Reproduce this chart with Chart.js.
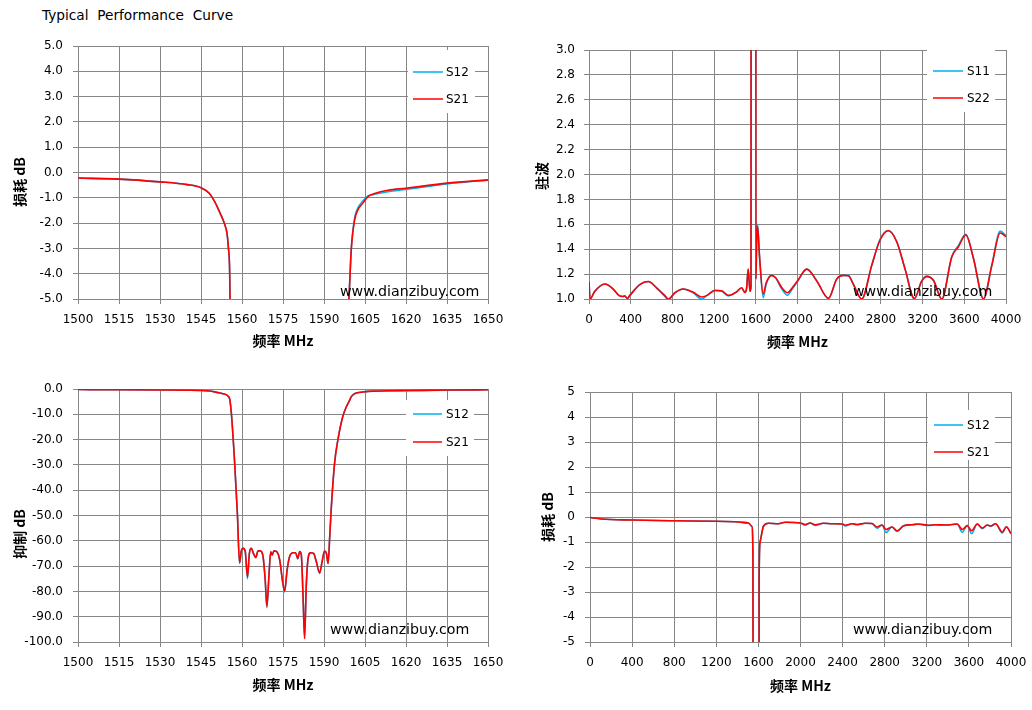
<!DOCTYPE html>
<html>
<head>
<meta charset="utf-8">
<script src="https://cdn.jsdelivr.net/npm/chart.js@4.4.1/dist/chart.umd.min.js"></script>
<style>
html,body{margin:0;padding:0;background:#fff;width:1032px;height:710px;overflow:hidden;}
#title{position:absolute;left:42px;top:7px;font:13.7px "DejaVu Sans",sans-serif;color:#000;white-space:pre;}
canvas{position:absolute;left:0;top:0;}
</style>
</head>
<body>
<div id="title">Typical  Performance  Curve</div>
<canvas id="c1" width="1032" height="710"></canvas>
<canvas id="c2" width="1032" height="710"></canvas>
<canvas id="c3" width="1032" height="710"></canvas>
<canvas id="c4" width="1032" height="710"></canvas>
<script>
// ---------- DATA ----------
// Filter band (1500-1650 MHz): used by insertion-loss (top-left) and rejection (bottom-left)
const freqFilter = [1500,1515,1530,1540,1545,1548,1550,1552,1553.5,1554.5,1555,1555.5,1556.1,1557.3,1558.3,1559.1,1559.8,1560.5,1561.2,1562.0,1562.7,1563.4,1564.3,1565.0,1565.9,1566.7,1567.7,1568.5,1569.1,1569.9,1570.5,1571.0,1571.7,1572.7,1573.8,1574.8,1575.6,1576.5,1577.4,1578.7,1579.6,1580.4,1581.1,1581.7,1582.3,1582.9,1583.5,1584.1,1585.1,1586.2,1587.2,1588.4,1589.3,1590.2,1590.9,1591.5,1592.1,1592.7,1593.9,1595.1,1596.9,1598.2,1599.3,1600.0,1601.2,1602.4,1604.3,1606.1,1608.5,1613.4,1620,1635,1650];
const s21Filter = [-0.22,-0.26,-0.37,-0.48,-0.6,-0.82,-1.15,-1.61,-2.0,-2.4,-2.94,-4.0,-9.5,-29,-49,-68.7,-63.7,-63,-64.3,-74.3,-65,-63,-65.3,-66.6,-64,-64,-66.3,-75.6,-85.9,-73,-64.3,-65.6,-64,-64.3,-67.6,-75.6,-79.8,-71.6,-66.3,-64.7,-64.7,-67,-64.2,-65.6,-80.8,-98.6,-78,-67.6,-64.7,-65,-68.3,-72.6,-68.3,-64.1,-65,-69,-58.3,-46.4,-29,-20,-10.8,-7.0,-4.6,-3.0,-1.88,-1.48,-1.2,-0.95,-0.83,-0.7,-0.62,-0.42,-0.29];
const s12Filter = [-0.22,-0.26,-0.37,-0.48,-0.6,-0.82,-1.15,-1.61,-2.0,-2.4,-2.94,-4.0,-9.5,-29,-49,-68.9,-63.7,-63,-64.3,-75.0,-65,-63,-65.3,-66.6,-64,-64,-66.3,-75.8,-86.4,-73,-64.3,-65.6,-64,-64.3,-67.6,-75.8,-80.2,-71.6,-66.3,-64.7,-64.7,-67.2,-64.2,-65.6,-80.8,-98.6,-78,-67.6,-64.7,-65,-68.3,-72.9,-68.3,-64.1,-65,-69,-58.3,-46.4,-29,-20,-10.8,-7.0,-4.6,-3.0,-1.8,-1.4,-1.12,-0.93,-0.86,-0.76,-0.67,-0.45,-0.3];

// VSWR 0-4000 MHz (top-right)
const freqVswr = [0,10,54,152,232,290,326,342,368,390,487,568,648,728,760,824,904,1000,1080,1128,1208,1272,1336,1368,1416,1464,1496,1512,1527,1544,1554,1558,1598,1601,1608,1617,1635,1671,1700,1751,1790,1850,1904,1950,2000,2089,2185,2297,2376,2440,2488,2536,2616,2712,2792,2872,2952,3032,3121,3192,3240,3304,3384,3480,3544,3614,3688,3784,3864,3944,4000];
const s22Vswr = [1.14,1.0,1.06,1.12,1.08,1.027,1.02,1.025,1.005,1.027,1.115,1.14,1.09,1.027,1.0,1.05,1.08,1.054,1.016,1.027,1.068,1.065,1.03,1.035,1.057,1.09,1.054,1.09,1.24,1.06,1.1,12,12,1.16,1.45,1.58,1.35,1.04,1.13,1.19,1.17,1.09,1.05,1.09,1.145,1.24,1.145,1.005,1.16,1.19,1.186,1.118,1.0,1.27,1.474,1.548,1.46,1.24,1.005,1.145,1.18,1.15,1.0,1.34,1.42,1.515,1.326,1.0,1.27,1.53,1.5];
const s11Vswr = [1.14,1.0,1.06,1.12,1.08,1.027,1.02,1.025,1.005,1.027,1.115,1.14,1.09,1.02,0.995,1.05,1.08,1.05,1.0,1.027,1.07,1.065,1.025,1.035,1.057,1.09,1.05,1.09,1.24,1.06,1.1,12,12,1.16,1.47,1.6,1.35,1.01,1.12,1.19,1.17,1.08,1.03,1.08,1.14,1.24,1.145,1.005,1.16,1.19,1.19,1.118,1.0,1.27,1.48,1.55,1.46,1.24,1.0,1.145,1.185,1.15,1.0,1.34,1.43,1.52,1.326,1.0,1.27,1.545,1.51];

// Wideband loss 0-4000 MHz (bottom-right)
const freqLoss = [0,108,400,800,1200,1378,1505,1537,1548,1553,1602,1607,1616,1648,1695,1790,1854,2000,2044,2092,2140,2219,2300,2400,2425,2489,2537,2616,2679,2727,2775,2813,2870,2917,2981,3060,3124,3219,3283,3378,3441,3489,3537,3584,3625,3679,3727,3775,3806,3854,3917,3956,4000];
const s21Loss = [-0.02,-0.08,-0.12,-0.15,-0.17,-0.19,-0.24,-0.37,-1.5,-30,-30,-2.5,-1.0,-0.37,-0.25,-0.27,-0.21,-0.24,-0.3,-0.24,-0.31,-0.25,-0.27,-0.28,-0.33,-0.27,-0.3,-0.25,-0.26,-0.4,-0.32,-0.5,-0.4,-0.55,-0.35,-0.31,-0.28,-0.33,-0.31,-0.32,-0.3,-0.28,-0.5,-0.35,-0.55,-0.28,-0.44,-0.32,-0.36,-0.27,-0.6,-0.4,-0.67];
const s12Loss = [-0.02,-0.08,-0.12,-0.15,-0.17,-0.19,-0.24,-0.37,-1.5,-30,-30,-2.5,-1.0,-0.37,-0.25,-0.27,-0.21,-0.24,-0.33,-0.24,-0.34,-0.25,-0.27,-0.29,-0.36,-0.27,-0.31,-0.25,-0.26,-0.45,-0.32,-0.62,-0.4,-0.58,-0.35,-0.31,-0.29,-0.34,-0.31,-0.32,-0.3,-0.28,-0.61,-0.33,-0.67,-0.28,-0.47,-0.32,-0.37,-0.27,-0.64,-0.38,-0.67];

// Tick labels
const ticksFilterX = [1500,1515,1530,1545,1560,1575,1590,1605,1620,1635,1650];
const ticksWideX = [0,400,800,1200,1600,2000,2400,2800,3200,3600,4000];
const ticksLossY = [-5,-4,-3,-2,-1,0,1,2,3,4,5];
const ticksVswrY = [1.0,1.2,1.4,1.6,1.8,2.0,2.2,2.4,2.6,2.8,3.0];
const ticksRejY = [-100,-90,-80,-70,-60,-50,-40,-30,-20,-10,0];

const xTitle = '频率 MHz';
const watermark = 'www.dianzibuy.com';

// ---------- STYLE ----------
const CYAN = '#00B0F0', RED = '#FF0000', GRID = '#868686';
const TICK_FONT = {family:'"DejaVu Sans", sans-serif', size:12};
const CJK = '"Noto Sans CJK SC", sans-serif';

function makeChart(id, c) {
  const W = 1032, H = 710, yW = 60, xH = 40;
  const a = c.area;
  const overlay = {
    id: 'overlay',
    afterDraw(chart) {
      const ctx = chart.ctx;
      const ca = chart.chartArea;
      ctx.save();
      const L = c.legend;
      ctx.fillStyle = '#fff';
      ctx.fillRect(L.x, L.y, L.w, L.h);
      ctx.font = '12px "DejaVu Sans", sans-serif';
      ctx.textBaseline = 'middle';
      ctx.textAlign = 'left';
      c.series.forEach((s, i) => {
        const y = L.rows[i];
        ctx.strokeStyle = s.color; ctx.lineWidth = 1.5;
        ctx.beginPath(); ctx.moveTo(L.lx0, y); ctx.lineTo(L.lx1, y); ctx.stroke();
        ctx.fillStyle = '#000';
        ctx.fillText(s.label, L.tx, y + 1);
      });
      ctx.font = '14.2px "DejaVu Sans", sans-serif';
      ctx.fillStyle = '#000';
      ctx.fillText(watermark, c.wm.x, c.wm.y);
      ctx.font = 'bold 14px ' + CJK;
      ctx.textAlign = 'center';
      ctx.fillText(xTitle, (ca.left + ca.right) / 2, c.xt);
      ctx.translate(c.yt.x, c.yt.y);
      ctx.rotate(-Math.PI / 2);
      ctx.fillText(c.yTitle, 0, 0);
      ctx.restore();
    }
  };
  return new Chart(document.getElementById(id), {
    type: 'line',
    data: {
      datasets: c.series.map(s => ({
        label: s.label,
        data: s.x.map((x, i) => ({x: x, y: s.y[i]})),
        borderColor: s.color,
        borderWidth: 1.6,
        pointRadius: 0,
        fill: false,
        cubicInterpolationMode: 'monotone',
        order: s.order
      }))
    },
    options: {
      responsive: false,
      animation: false,
      events: [],
      layout: {padding: {left: a.l - yW, top: a.t, right: W - a.r, bottom: H - a.b - xH}},
      plugins: {legend: {display: false}, tooltip: {enabled: false}, title: {display: false}},
      scales: {
        x: {
          type: 'linear', min: c.xMin, max: c.xMax,
          afterBuildTicks: s => { s.ticks = c.xTicks.map(v => ({value: v})); },
          afterFit: s => { s.height = xH; s.paddingLeft = 0; s.paddingRight = 0; },
          grid: {color: GRID, lineWidth: 1, tickLength: 5, drawTicks: true, tickColor: GRID},
          border: {color: GRID, width: 1},
          ticks: {font: TICK_FONT, color: '#000', padding: 9, maxRotation: 0, autoSkip: false,
                  callback: v => String(v)}
        },
        y: {
          type: 'linear', min: c.yMin, max: c.yMax,
          afterBuildTicks: s => { s.ticks = c.yTicks.map(v => ({value: v})); },
          afterFit: s => { s.width = yW; s.paddingTop = 0; s.paddingBottom = 0; },
          grid: {color: GRID, lineWidth: 1, tickLength: 5, drawTicks: true, tickColor: GRID},
          border: {color: GRID, width: 1},
          ticks: {font: TICK_FONT, color: '#000', padding: c.yPad, autoSkip: false,
                  callback: c.yFmt}
        }
      }
    },
    plugins: [overlay]
  });
}

const fmt1 = v => Number(v).toFixed(1);
const fmt0 = v => String(Math.round(v));

makeChart('c1', {
  area: {l: 78, t: 46, r: 488, b: 299},
  xMin: 1500, xMax: 1650, xTicks: ticksFilterX,
  yMin: -5, yMax: 5, yTicks: ticksLossY, yFmt: fmt1, yPad: 10,
  series: [
    {label: 'S12', x: freqFilter, y: s12Filter, color: CYAN, order: 2},
    {label: 'S21', x: freqFilter, y: s21Filter, color: RED, order: 1}
  ],
  legend: {x: 408, y: 50, w: 67, h: 63, rows: [72, 99], lx0: 413, lx1: 443, tx: 446},
  wm: {x: 340, y: 292},
  xt: 341, yTitle: '损耗 dB', yt: {x: 20, y: 182}
});

makeChart('c2', {
  area: {l: 589, t: 50, r: 1006, b: 299},
  xMin: 0, xMax: 4000, xTicks: ticksWideX,
  yMin: 1, yMax: 3, yTicks: ticksVswrY, yFmt: fmt1, yPad: 9,
  series: [
    {label: 'S11', x: freqVswr, y: s11Vswr, color: CYAN, order: 2},
    {label: 'S22', x: freqVswr, y: s22Vswr, color: RED, order: 1}
  ],
  legend: {x: 927, y: 48, w: 68, h: 64, rows: [71, 98], lx0: 933, lx1: 963, tx: 967},
  wm: {x: 853, y: 292},
  xt: 342, yTitle: '驻波', yt: {x: 542, y: 176}
});

makeChart('c3', {
  area: {l: 78, t: 389, r: 488, b: 642},
  xMin: 1500, xMax: 1650, xTicks: ticksFilterX,
  yMin: -100, yMax: 0, yTicks: ticksRejY, yFmt: fmt1, yPad: 10,
  series: [
    {label: 'S12', x: freqFilter, y: s12Filter, color: CYAN, order: 2},
    {label: 'S21', x: freqFilter, y: s21Filter, color: RED, order: 1}
  ],
  legend: {x: 406, y: 400, w: 68, h: 56, rows: [414, 442], lx0: 413, lx1: 442, tx: 446},
  wm: {x: 330, y: 630},
  xt: 685, yTitle: '抑制 dB', yt: {x: 20, y: 534}
});

makeChart('c4', {
  area: {l: 590, t: 392, r: 1011, b: 642},
  xMin: 0, xMax: 4000, xTicks: ticksWideX,
  yMin: -5, yMax: 5, yTicks: ticksLossY, yFmt: fmt0, yPad: 10,
  series: [
    {label: 'S12', x: freqLoss, y: s12Loss, color: CYAN, order: 2},
    {label: 'S21', x: freqLoss, y: s21Loss, color: RED, order: 1}
  ],
  legend: {x: 928, y: 410, w: 67, h: 50, rows: [425, 452], lx0: 934, lx1: 963, tx: 967},
  wm: {x: 853, y: 630},
  xt: 686, yTitle: '损耗 dB', yt: {x: 548, y: 517}
});
</script>
</body>
</html>
